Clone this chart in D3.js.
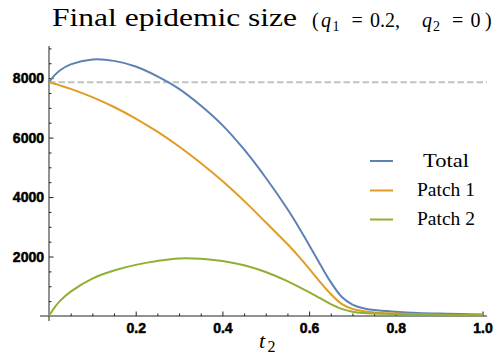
<!DOCTYPE html>
<html>
<head>
  <meta charset="utf-8">
  <title>Final epidemic size</title>
  <script src="https://d3js.org/d3.v7.min.js"></script>
  <style>
    body { margin: 0; background: #fff; }
  </style>
</head>
<body>
<svg class="chart"></svg>

<script>
var width = 500, height = 358;

// values
var tValues = [0, 0.0125, 0.025, 0.05, 0.1, 0.15, 0.2, 0.25, 0.3, 0.35, 0.4, 0.45, 0.5, 0.55, 0.575, 0.6, 0.625, 0.65, 0.675, 0.7, 0.725, 0.75, 0.8, 0.85, 0.9, 0.95, 1.0];
var total  = [7860, 8090, 8256, 8460, 8625, 8580, 8390, 8060, 7640, 7080, 6420, 5600, 4650, 3600, 3010, 2390, 1750, 1140, 650, 385, 262, 202, 145, 105, 80, 64, 52];
var patch1 = [7860, 7810, 7756, 7638, 7361, 7029, 6641, 6198, 5699, 5145, 4536, 3871, 3151, 2420, 2020, 1590, 1150, 740, 410, 240, 162, 122, 85, 60, 45, 36, 30];
var patch2 = [0, 280, 500, 820, 1260, 1530, 1720, 1850, 1935, 1925, 1850, 1705, 1480, 1170, 990, 800, 600, 400, 240, 145, 100, 80, 60, 45, 35, 28, 22];
var refValue = 7860;   // dashed gray line
var seriesNames = ["Total", "Patch 1", "Patch 2"];
var colors = ["#5E81B5", "#E19C24", "#8FB032"];
var xTicks = [0.2, 0.4, 0.6, 0.8, 1.0];
var yTicks = [2000, 4000, 6000, 8000];

var serif = "'Liberation Serif', 'Times New Roman', serif";
var sans = "Arial, 'Liberation Sans', sans-serif";

var svg = d3.select(".chart").attr("width", width).attr("height", height);

var x = d3.scaleLinear().domain([0, 1]).range([49, 482.5]);
var y = d3.scaleLinear().domain([0, 9080]).range([316, 46]);

// axes lines (crossing at origin)
svg.append("line").attr("x1", 40).attr("x2", 487).attr("y1", y(0)).attr("y2", y(0))
  .attr("stroke", "#222").attr("stroke-width", 1);
svg.append("line").attr("x1", x(0)).attr("x2", x(0)).attr("y1", 321).attr("y2", 46)
  .attr("stroke", "#222").attr("stroke-width", 1);

// minor ticks
var xMinor = d3.range(1, 20).map(function(i) { return i * 0.05; })
  .filter(function(d) { return Math.abs(d * 5 - Math.round(d * 5)) > 1e-6; });
var yMinor = d3.range(1, 19).map(function(i) { return i * 500; })
  .filter(function(d) { return d % 2000 !== 0; });

function styleAxis(g) {
  g.select(".domain").remove();
  g.selectAll("line").attr("stroke", "#222");
  g.selectAll("text")
    .style("font-family", sans).style("font-weight", "700")
    .style("font-size", "14px").attr("fill", "#000")
    .attr("stroke", "#000").attr("stroke-width", 0.5);
}

svg.append("g").attr("transform", "translate(0," + y(0) + ")")
  .call(d3.axisBottom(x).tickValues(xMinor).tickFormat("").tickSizeInner(-2.5).tickSizeOuter(0))
  .call(styleAxis);
svg.append("g").attr("transform", "translate(" + x(0) + ",0)")
  .call(d3.axisLeft(y).tickValues(yMinor).tickFormat("").tickSizeInner(-2.5).tickSizeOuter(0))
  .call(styleAxis);

// major ticks + labels
svg.append("g").attr("transform", "translate(0," + y(0) + ")")
  .call(d3.axisBottom(x).tickValues(xTicks).tickFormat(d3.format(".1f")).tickSizeInner(-4.5).tickSizeOuter(0).tickPadding(7))
  .call(styleAxis);
svg.append("g").attr("transform", "translate(" + x(0) + ",0)")
  .call(d3.axisLeft(y).tickValues(yTicks).tickFormat(d3.format("d")).tickSizeInner(-4.5).tickSizeOuter(0).tickPadding(5))
  .call(styleAxis);

// reference dashed line
svg.append("line")
  .attr("x1", x(0)).attr("x2", 487)
  .attr("y1", y(refValue)).attr("y2", y(refValue))
  .attr("stroke", "#c2c2c2").attr("stroke-width", 2).attr("stroke-dasharray", "6.5,3");

var line = d3.line()
  .x(function(d) { return x(d[0]); })
  .y(function(d) { return y(d[1]); })
  .curve(d3.curveCatmullRom.alpha(0.5));

var series = [total, patch1, patch2];
svg.selectAll("path.series").data(series).enter().append("path")
  .attr("class", "series")
  .attr("d", function(vals) { return line(vals.map(function(v, i) { return [tValues[i], v]; })); })
  .attr("fill", "none")
  .attr("stroke", function(d, i) { return colors[i]; })
  .attr("stroke-width", 2);

// title
svg.append("text")
  .attr("x", 52).attr("y", 26)
  .style("font-family", serif).style("font-size", "26px")
  .attr("textLength", 245).attr("lengthAdjust", "spacingAndGlyphs")
  .text("Final epidemic size");

var sub = svg.append("text").attr("y", 26.5).style("font-family", serif).style("font-size", "20px");
sub.append("tspan").attr("x", 312).text("(");
sub.append("tspan").attr("x", 321).style("font-style", "italic").text("q");
sub.append("tspan").attr("x", 332.5).attr("dy", 4).style("font-size", "14px").text("1");
sub.append("tspan").attr("x", 351.5).attr("dy", -4).text("=");
sub.append("tspan").attr("x", 370).text("0.2,");
sub.append("tspan").attr("x", 422).style("font-style", "italic").text("q");
sub.append("tspan").attr("x", 433).attr("dy", 4).style("font-size", "14px").text("2");
sub.append("tspan").attr("x", 452).attr("dy", -4).text("=");
sub.append("tspan").attr("x", 470.5).text("0");
sub.append("tspan").attr("x", 485).text(")");

// x axis label
svg.append("text").attr("x", 259).attr("y", 348)
  .style("font-family", serif).style("font-size", "22px").style("font-style", "italic").text("t");
svg.append("text").attr("x", 267.5).attr("y", 352)
  .style("font-family", serif).style("font-size", "16px").text("2");

// legend
var legendY = [161, 190.5, 219.5];
var legend = svg.selectAll("g.legend").data(seriesNames).enter().append("g").attr("class", "legend");
legend.append("line")
  .attr("x1", 370).attr("x2", 393)
  .attr("y1", function(d, i) { return legendY[i]; })
  .attr("y2", function(d, i) { return legendY[i]; })
  .attr("stroke", function(d, i) { return colors[i]; })
  .attr("stroke-width", 2);
legend.append("text")
  .attr("x", 446).attr("text-anchor", "middle")
  .attr("y", function(d, i) { return legendY[i] + 5.5; })
  .style("font-family", serif)
  .style("font-size", function(d, i) { return i === 0 ? "19px" : "18px"; })
  .attr("textLength", function(d, i) { return i === 0 ? 46 : 58; })
  .attr("lengthAdjust", "spacingAndGlyphs")
  .text(function(d) { return d; });
</script>
</body>
</html>
